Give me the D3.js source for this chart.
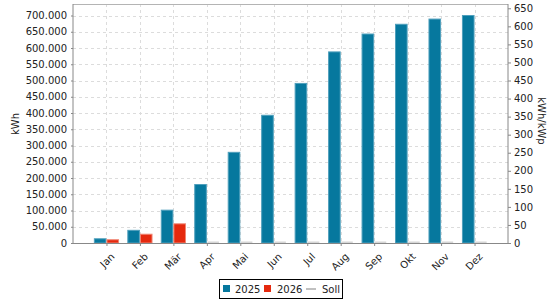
<!DOCTYPE html>
<html>
<head>
<meta charset="utf-8">
<script src="https://cdn.jsdelivr.net/npm/d3@7"></script>
<style>
body{margin:0;background:#fff;}
text{font-family:"DejaVu Sans",sans-serif;font-size:10px;fill:#222;}
</style>
</head>
<body>
<div id="chart"></div>
<script>
////////////////////////////////////////
// data
////////////////////////////////////////

var months = ['Jan','Feb','Mär','Apr','Mai','Jun','Jul','Aug','Sep','Okt','Nov','Dez'];
var values2025 = [13000,39000,101000,180000,279000,393000,491000,588000,643000,673000,689000,700000];
var values2026 = [10000,27000,59000,0,0,0,0,0,0,0,0,0];
var leftTicks = [0,50000,100000,150000,200000,250000,300000,350000,400000,450000,500000,550000,600000,650000,700000];
var rightTicks = [0,50,100,150,200,250,300,350,400,450,500,550,600,650];

////////////////////////////////////////
// layout
////////////////////////////////////////

var W = 560, H = 300;
var plotL = 73, plotR = 508, plotT = 4, plotB = 243;
var barW = 12.6;

var svg = d3.select('#chart').append('svg')
	.attr('width',W)
	.attr('height',H);

var x = d3.scalePoint().domain(months).range([plotL,plotR]).padding(1);
var y = d3.scaleLinear().domain([0,735400]).range([plotB,plotT]);
var y2 = d3.scaleLinear().domain([0,661.9]).range([plotB,plotT]);

var fmt = function(v){
	return v===0 ? '0' : d3.format(',')(v).replace(/,/g,'.');
};

////////////////////////////////////////
// grid
////////////////////////////////////////

svg.selectAll('line.hgrid')
	.data(leftTicks)
	.enter()
		.append('line')
		.attr('class','hgrid')
		.attr('x1',plotL).attr('x2',plotR)
		.attr('y1',function(d){ return Math.round(y(d))+0.5; })
		.attr('y2',function(d){ return Math.round(y(d))+0.5; })
		.attr('stroke','#dcdcdc')
		.attr('stroke-dasharray','3,3');

svg.selectAll('line.vgrid')
	.data(months)
	.enter()
		.append('line')
		.attr('class','vgrid')
		.attr('y1',plotT).attr('y2',plotB)
		.attr('x1',function(d){ return Math.round(x(d))+0.5; })
		.attr('x2',function(d){ return Math.round(x(d))+0.5; })
		.attr('stroke','#dcdcdc')
		.attr('stroke-dasharray','3,3');

svg.append('line')
	.attr('x1',plotL).attr('x2',plotR)
	.attr('y1',plotT+0.5).attr('y2',plotT+0.5)
	.attr('stroke','#b4b4b4');

////////////////////////////////////////
// bars
////////////////////////////////////////

svg.selectAll('rect.b2025')
	.data(values2025)
	.enter()
		.append('rect')
		.attr('class','b2025')
		.attr('x',function(d,i){ return x(months[i])-barW+0.5; })
		.attr('y',function(d){ return y(d); })
		.attr('width',barW-1)
		.attr('height',function(d){ return plotB-y(d); })
		.attr('fill','#06789e')
		.attr('stroke','#4f9fbc')
		.attr('stroke-width',1);

svg.selectAll('rect.b2026')
	.data(values2026)
	.enter()
		.append('rect')
		.attr('class','b2026')
		.attr('x',function(d,i){ return x(months[i])+0.5; })
		.attr('y',function(d){ return d>0 ? y(d) : plotB-1.5; })
		.attr('width',barW-1)
		.attr('height',function(d){ return d>0 ? plotB-y(d) : 1.5; })
		.attr('fill',function(d){ return d>0 ? '#e5290e' : '#d6d6d6'; })
		.attr('stroke',function(d){ return d>0 ? '#ef8573' : 'none'; })
		.attr('stroke-width',1);

////////////////////////////////////////
// axes
////////////////////////////////////////

var axisColor = '#888';

var gl = svg.append('g')
	.attr('transform','translate('+plotL+',0)')
	.call(d3.axisLeft(y).tickValues(leftTicks).tickSize(2).tickPadding(4).tickFormat(fmt));

var gr = svg.append('g')
	.attr('transform','translate('+plotR+',0)')
	.call(d3.axisRight(y2).tickValues(rightTicks).tickSize(3).tickPadding(3));

var gb = svg.append('g')
	.attr('transform','translate(0,'+plotB+')')
	.call(d3.axisBottom(x).tickSize(3).tickSizeOuter(0));

[gl,gr,gb].forEach(function(g){
	g.select('.domain').attr('stroke',axisColor);
	g.selectAll('.tick line').attr('stroke',axisColor);
	g.selectAll('text')
		.style('font-family','"DejaVu Sans",sans-serif')
		.style('font-size','10px')
		.attr('fill','#222');
});
gl.select('.domain').attr('d','M0,'+plotT+'V'+(plotB+0.5));
gr.select('.domain').attr('d','M0,'+plotT+'V'+(plotB+0.5));
gb.select('.domain').attr('d','M'+plotL+',0.5H'+plotR);

gb.selectAll('text')
	.attr('text-anchor','end')
	.attr('dy','0')
	.attr('transform','translate(4,10) rotate(-45)');

svg.append('text')
	.attr('transform','translate(19,124) rotate(-90)')
	.attr('text-anchor','middle')
	.text('kWh');

svg.append('text')
	.attr('transform','translate(538,121) rotate(90)')
	.attr('text-anchor','middle')
	.text('kWh/kWp');

////////////////////////////////////////
// legend
////////////////////////////////////////

var legend = svg.append('g').attr('transform','translate(219,279)');
legend.append('rect')
	.attr('x',0.5).attr('y',0.5)
	.attr('width',123).attr('height',19)
	.attr('fill','#fff')
	.attr('stroke','#000');

var legendItems = [
	{label:'2025',color:'#06789e',type:'box',x:4,tx:16},
	{label:'2026',color:'#e5290e',type:'box',x:45,tx:58},
	{label:'Soll',color:'#c0c0c0',type:'line',x:87,tx:103}
];

legendItems.forEach(function(d){
	if(d.type==='box'){
		legend.append('rect')
			.attr('x',d.x).attr('y',6)
			.attr('width',7).attr('height',7)
			.attr('fill',d.color);
	}
	else{
		legend.append('line')
			.attr('x1',d.x).attr('x2',d.x+10)
			.attr('y1',10).attr('y2',10)
			.attr('stroke',d.color)
			.attr('stroke-width',2);
	}
	legend.append('text')
		.attr('x',d.tx).attr('y',14)
		.text(d.label);
});
</script>
</body>
</html>
